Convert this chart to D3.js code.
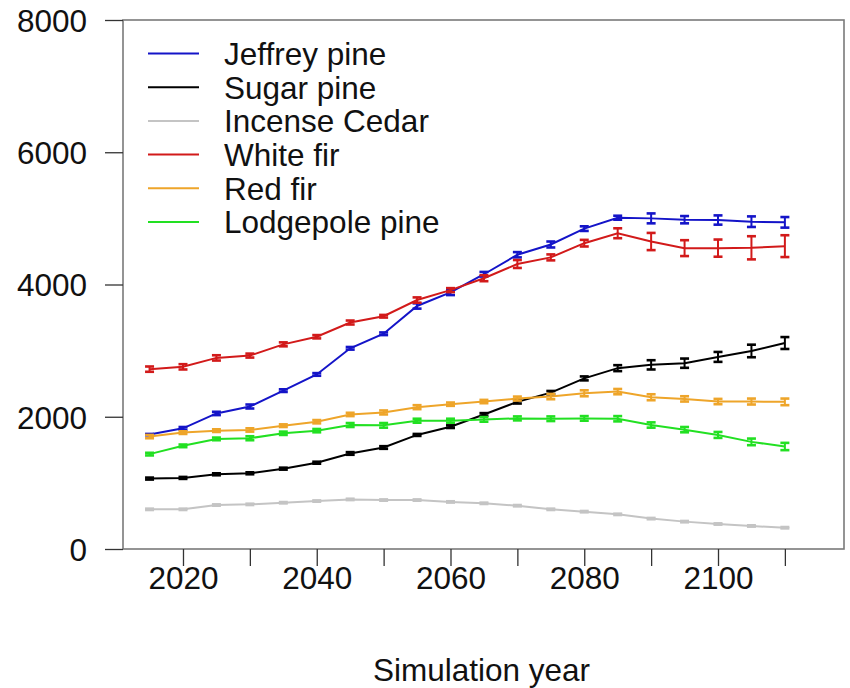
<!DOCTYPE html>
<html>
<head>
<meta charset="utf-8">
<script src="https://cdn.jsdelivr.net/npm/d3@7"></script>
<style>
  html, body { margin: 0; padding: 0; background: #fff; }
  svg { display: block; font-family: "Liberation Sans", Arial, sans-serif; }
</style>
</head>
<body>
<svg id="chart" width="850" height="688"></svg>
<script>
// simulation years (every 5 years)
const years = [2015, 2020, 2025, 2030, 2035, 2040, 2045, 2050, 2055, 2060,
               2065, 2070, 2075, 2080, 2085, 2090, 2095, 2100, 2105, 2110];

// mean values
const jeffreyPine = [1730, 1825, 2050, 2155, 2395, 2640, 3035, 3255, 3675, 3880,
                     4155, 4450, 4605, 4845, 5010, 5000, 4980, 4975, 4950, 4940];
const sugarPine = [1065, 1075, 1130, 1145, 1215, 1305, 1445, 1535, 1725, 1850,
                   2035, 2225, 2365, 2580, 2735, 2785, 2810, 2905, 2995, 3115];
const incenseCedar = [600, 600, 665, 675, 700, 725, 750, 740, 740, 712,
                      691, 655, 600, 565, 524, 460, 414, 378, 348, 322];
const whiteFir = [2720, 2755, 2890, 2925, 3095, 3210, 3425, 3520, 3765, 3915,
                  4095, 4310, 4410, 4625, 4775, 4650, 4550, 4550, 4555, 4580];
const redFir = [1700, 1760, 1790, 1800, 1865, 1925, 2035, 2065, 2145, 2190,
                2230, 2275, 2305, 2355, 2380, 2295, 2270, 2230, 2230, 2225];
const lodgepolePine = [1435, 1560, 1665, 1675, 1750, 1790, 1875, 1870, 1940, 1940,
                       1960, 1975, 1970, 1975, 1970, 1875, 1805, 1725, 1620, 1550];

// error bar half-widths
const jeffreyErr = [10, 20, 25, 30, 20, 20, 20, 20, 40, 40, 35, 40, 45, 35, 30, 75, 55, 70, 80, 80];
const sugarErr = [15, 15, 15, 15, 15, 15, 20, 20, 15, 20, 20, 25, 25, 30, 45, 70, 70, 75, 95, 90];
const cedarErr = [10, 10, 10, 10, 10, 10, 10, 10, 10, 10, 10, 10, 10, 10, 10, 10, 10, 10, 10, 10];
const whiteFirErr = [40, 40, 40, 30, 30, 25, 30, 20, 40, 30, 45, 60, 45, 50, 75, 130, 120, 130, 175, 165];
const redFirErr = [25, 20, 20, 25, 20, 25, 25, 30, 30, 25, 25, 30, 40, 45, 40, 45, 40, 40, 45, 50];
const lodgepoleErr = [20, 20, 20, 30, 25, 25, 30, 35, 30, 30, 35, 30, 35, 35, 40, 40, 40, 45, 50, 55];

const speciesNames = ["Jeffrey pine", "Sugar pine", "Incense Cedar", "White fir", "Red fir", "Lodgepole pine"];
const speciesColors = ["#1414c8", "#000000", "#c4c4c4", "#d21a1a", "#eea52a", "#22e022"];

const yTicks = [0, 2000, 4000, 6000, 8000];
const xTicks = [2020, 2030, 2040, 2050, 2060, 2070, 2080, 2090, 2100, 2110];
const xLabels = [2020, 2040, 2060, 2080, 2100];

const series = [
  { name: speciesNames[0], color: speciesColors[0], mean: jeffreyPine, err: jeffreyErr },
  { name: speciesNames[1], color: speciesColors[1], mean: sugarPine, err: sugarErr },
  { name: speciesNames[2], color: speciesColors[2], mean: incenseCedar, err: cedarErr },
  { name: speciesNames[3], color: speciesColors[3], mean: whiteFir, err: whiteFirErr },
  { name: speciesNames[4], color: speciesColors[4], mean: redFir, err: redFirErr },
  { name: speciesNames[5], color: speciesColors[5], mean: lodgepolePine, err: lodgepoleErr }
];

const margin = { top: 20, right: 6, bottom: 139, left: 123 };
const W = 850, H = 688;
const innerW = W - margin.left - margin.right;
const innerH = H - margin.top - margin.bottom;
const fontSize = 31.5;

const svg = d3.select("#chart");
const g = svg.append("g").attr("transform", `translate(${margin.left},${margin.top})`);

const x = d3.scaleLinear().domain([2011.03, 2118.84]).range([0, innerW]);
const y = d3.scaleLinear().domain([0, 8000]).range([innerH, 0]);

// box
g.append("rect")
  .attr("x", 0).attr("y", 0)
  .attr("width", innerW).attr("height", innerH)
  .attr("fill", "none").attr("stroke", "#7a7a7a").attr("stroke-width", 1.6);

// y axis
const yAxis = g.append("g")
  .call(d3.axisLeft(y).tickValues(yTicks).tickSize(18).tickPadding(18).tickFormat(d3.format("d")));
yAxis.select(".domain").remove();
yAxis.selectAll(".tick line").attr("stroke", "#333").attr("stroke-width", 1.3);
yAxis.selectAll(".tick text").attr("font-size", fontSize).attr("fill", "#111").attr("dy", "0.36em");

// x axis
const xAxis = g.append("g")
  .attr("transform", `translate(0,${innerH})`)
  .call(d3.axisBottom(x).tickValues(xTicks).tickSize(17)
    .tickFormat(d => xLabels.includes(d) ? String(d) : ""));
xAxis.select(".domain").remove();
xAxis.selectAll(".tick line").attr("stroke", "#333").attr("stroke-width", 1.3);
xAxis.selectAll(".tick text").attr("font-size", fontSize).attr("fill", "#111")
  .attr("y", 40).attr("dy", 0);

// axis title
svg.append("text")
  .attr("x", margin.left + innerW / 2 - 2)
  .attr("y", 681)
  .attr("text-anchor", "middle")
  .attr("font-size", fontSize)
  .attr("fill", "#111")
  .text("Simulation year");

const line = d3.line()
  .x((d, i) => x(years[i]))
  .y(d => y(d));

const capHalf = 4.5;

series.forEach(s => {
  const sg = g.append("g");
  sg.append("path")
    .datum(s.mean)
    .attr("d", line)
    .attr("fill", "none")
    .attr("stroke", s.color)
    .attr("stroke-width", 2);

  const bars = sg.selectAll(".eb").data(s.mean.map((m, i) => ({ yr: years[i], m, e: s.err[i] })))
    .join("g").attr("class", "eb");
  bars.append("line")
    .attr("x1", d => x(d.yr)).attr("x2", d => x(d.yr))
    .attr("y1", d => y(d.m - d.e)).attr("y2", d => y(d.m + d.e))
    .attr("stroke", s.color).attr("stroke-width", 2);
  bars.append("line")
    .attr("x1", d => x(d.yr) - capHalf).attr("x2", d => x(d.yr) + capHalf)
    .attr("y1", d => y(d.m + d.e)).attr("y2", d => y(d.m + d.e))
    .attr("stroke", s.color).attr("stroke-width", 2.6);
  bars.append("line")
    .attr("x1", d => x(d.yr) - capHalf).attr("x2", d => x(d.yr) + capHalf)
    .attr("y1", d => y(d.m - d.e)).attr("y2", d => y(d.m - d.e))
    .attr("stroke", s.color).attr("stroke-width", 2.6);
});

// legend
const legend = g.append("g").attr("transform", "translate(25,33.5)");
series.forEach((s, i) => {
  const row = legend.append("g").attr("transform", `translate(0,${i * 33.7})`);
  row.append("line")
    .attr("x1", 0).attr("x2", 51)
    .attr("y1", 0).attr("y2", 0)
    .attr("stroke", s.color).attr("stroke-width", 2);
  row.append("text")
    .attr("x", 76).attr("y", 0).attr("dy", "0.36em")
    .attr("font-size", fontSize).attr("fill", "#111")
    .text(s.name);
});
</script>
</body>
</html>
